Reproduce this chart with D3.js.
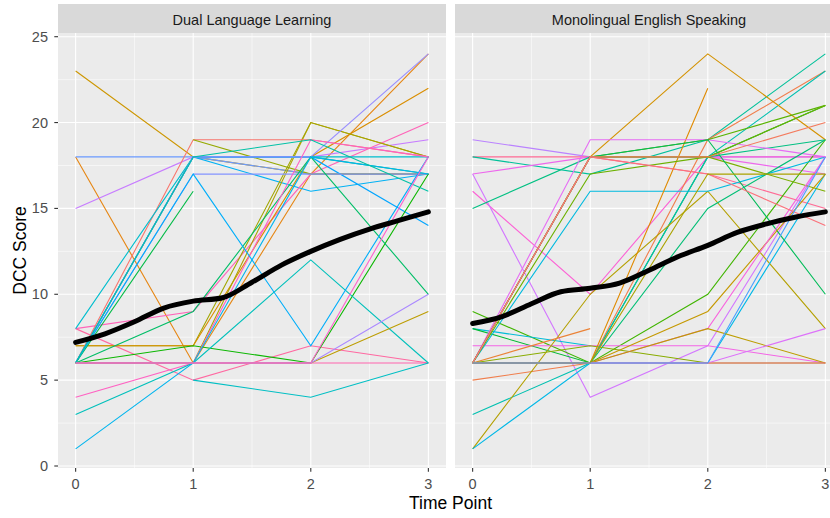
<!DOCTYPE html>
<html>
<head>
<meta charset="utf-8">
<script src="https://cdn.jsdelivr.net/npm/d3@7"></script>
<style>
  body { margin: 0; background: #ffffff; }
  text { font-family: "Liberation Sans", Arial, sans-serif; }
</style>
</head>
<body>
<div id="chart"></div>
<script>
// data
const time_points = [0, 1, 2, 3];
const group_names = ["Dual Language Learning", "Monolingual English Speaking"];
const y_ticks = [0, 5, 10, 15, 20, 25];
const x_ticks = [0, 1, 2, 3];

// hue slot of each participant (ggplot hue palette, 64 slots)
const dll_slots = [8, 4, 43, 48, 38, 58, 60, 13, 6, 12, 0, 14, 27, 33, 41, 45, 44, 22, 20, 59, 24, 57, 31, 37, 39, 32, 29, 10, 46, 56];
const dll_scores = [
    [23, 18, 17, 17], [18, 6, 17, 24], [18, 18, 17, 17], [15, 18, 18, 19],
    [6, 18, 16, 17], [8, 9, 17, 20], [8, 5, 7, 6], [7, 7, 20, 18],
    [7, 7, 18, 22], [6, 6, 20, 18], [6, 19, 19, 18], [null, 19, 17, 17],
    [6, 18, 18, 17], [8, 18, 18, 18], [6, 18, 18, 14], [6, 18, 18, 24],
    [6, 17, 17, 17], [6, 16, null, null], [6, 7, 6, 17], [6, 6, 6, 6],
    [6, 9, 18, 10], [4, 6, 19, 18], [3, 6, 12, 6], [1, 6, 18, 17],
    [6, 17, 7, 18], [null, 5, 4, 6], [6, 18, 19, 16], [6, 6, 6, 9],
    [6, 6, 6, 10], [6, 6, 6, 18]
];

const mes_slots = [47, 61, 28, 52, 55, 49, 26, 19, 34, 21, 53, 2, 30, 11, 36, 35, 3, 7, 5, 51, 18, 17, 16, 23, 1, 25, 15, 9, 54, 10, 50, 62, 63, 12, 42];
const mes_scores = [
    [19, 18, 18, 18], [18, 18, 17, 15], [18, 17, 19, 24], [17, 18, 18, 17],
    [16, 10, 18, 18], [17, 4, 7, 18], [15, 18, 18, 19], [9, 6, 10, 19],
    [8, 7, null, null], [8, 6, 18, 21], [7, 7, 7, 6], [5, 6, 19, 23],
    [3, 6, 18, 23], [1, 10, 16, 8], [1, 6, 6, 17], [6, 16, 16, 18],
    [6, 8, null, null], [6, 18, 24, 19], [6, 6, 22, null], [6, 19, 19, 18],
    [6, 18, 19, 21], [6, 17, 18, 21], [6, 18, 18, 16], [6, 18, 19, 10],
    [6, 18, 18, 20], [6, 6, 15, 19], [6, 7, 6, 6], [6, 6, 9, 17],
    [6, 6, 8, 18], [6, 6, 8, 6], [6, 6, 6, 8], [6, 6, 6, 6],
    [6, 18, 17, 14], [6, 6, 17, 17], [6, 6, 6, 18]
];

// loess curve read at quarter steps
const smooth_t = [0, 0.25, 0.5, 0.75, 1, 1.25, 1.5, 1.75, 2, 2.25, 2.5, 2.75, 3];
const dll_smooth = [7.2, 7.7, 8.4, 9.2, 9.6, 9.8, 10.7, 11.7, 12.5, 13.2, 13.8, 14.3, 14.8];
const mes_smooth = [8.3, 8.7, 9.45, 10.15, 10.35, 10.65, 11.4, 12.2, 12.85, 13.6, 14.1, 14.5, 14.8];

const hue_count = 64;

// R style hcl() colour (polar LUV)
function hcl_luv(h, c, l) {
    const xn = 95.047, yn = 100, zn = 108.883;
    const hr = h * Math.PI / 180;
    const U = c * Math.cos(hr), V = c * Math.sin(hr);
    const Y = l > 8 ? yn * Math.pow((l + 16) / 116, 3) : yn * l / 903.3;
    const den = xn + 15 * yn + 3 * zn;
    const u = U / (13 * l) + 4 * xn / den;
    const v = V / (13 * l) + 9 * yn / den;
    const X = 9 * Y * u / (4 * v);
    const Z = -X / 3 - 5 * Y + 3 * Y / v;
    const lin = [
        3.240479 * X - 1.537150 * Y - 0.498535 * Z,
        -0.969256 * X + 1.875992 * Y + 0.041556 * Z,
        0.055648 * X - 0.204043 * Y + 1.057311 * Z
    ].map(function(k) {
        k = k / 100;
        k = k <= 0.0031308 ? 12.92 * k : 1.055 * Math.pow(k, 1 / 2.4) - 0.055;
        return Math.round(Math.max(0, Math.min(1, k)) * 255);
    });
    return d3.rgb(lin[0], lin[1], lin[2]).formatHex();
}

class FacetView {

    constructor(grid_name) {
        // constants
        this.width = 830;
        this.height = 518;
        this.strip_top = 4;
        this.panel_top = 33;
        this.panel_bottom = 468;
        this.panels_x = [[58, 446], [455, 843]];

        // scales
        this.y = d3.scaleLinear().domain([0, 25]).range([466, 36.7]);
        this.color = function(slot) { return hcl_luv(15 + 360 * slot / hue_count, 100, 65); };

        d3.select(grid_name).html("");
        this._svg = d3.select(grid_name)
            .append("svg")
            .attr("width", this.width)
            .attr("height", this.height)
            .style("display", "block");
    }

    draw_panel(index, title, slots, scores, smooth) {
        const self = this;
        const left = this.panels_x[index][0];
        const right = this.panels_x[index][1];
        const x = d3.scaleLinear().domain([-0.15, 3.15]).range([left, right]);
        const g = this._svg.append("g");

        // background and strip
        g.append("rect")
            .attr("x", left).attr("y", this.panel_top)
            .attr("width", right - left).attr("height", this.panel_bottom - this.panel_top)
            .attr("fill", "#EBEBEB");
        g.append("rect")
            .attr("x", left).attr("y", this.strip_top)
            .attr("width", right - left).attr("height", this.panel_top - this.strip_top)
            .attr("fill", "#D9D9D9");
        g.append("text")
            .attr("x", (left + right) / 2).attr("y", 25)
            .attr("text-anchor", "middle")
            .attr("font-size", "14.5px")
            .attr("fill", "#1A1A1A")
            .text(title);

        // grid lines
        const y_minor = d3.pairs(y_ticks).map(function(p) { return (p[0] + p[1]) / 2; });
        const x_minor = d3.pairs(x_ticks).map(function(p) { return (p[0] + p[1]) / 2; });
        g.selectAll(".y_minor").data(y_minor).enter().append("line")
            .attr("x1", left).attr("x2", right)
            .attr("y1", function(d) { return self.y(d); })
            .attr("y2", function(d) { return self.y(d); })
            .attr("stroke", "#ffffff").attr("stroke-width", 0.55);
        g.selectAll(".x_minor").data(x_minor).enter().append("line")
            .attr("y1", this.panel_top).attr("y2", this.panel_bottom)
            .attr("x1", function(d) { return x(d); })
            .attr("x2", function(d) { return x(d); })
            .attr("stroke", "#ffffff").attr("stroke-width", 0.55);
        g.selectAll(".y_major").data(y_ticks).enter().append("line")
            .attr("x1", left).attr("x2", right)
            .attr("y1", function(d) { return self.y(d); })
            .attr("y2", function(d) { return self.y(d); })
            .attr("stroke", "#ffffff").attr("stroke-width", 1.1);
        g.selectAll(".x_major").data(x_ticks).enter().append("line")
            .attr("y1", this.panel_top).attr("y2", this.panel_bottom)
            .attr("x1", function(d) { return x(d); })
            .attr("x2", function(d) { return x(d); })
            .attr("stroke", "#ffffff").attr("stroke-width", 1.1);

        // participant lines
        const line = d3.line()
            .defined(function(d) { return d.v != null; })
            .x(function(d) { return x(d.t); })
            .y(function(d) { return self.y(d.v); });
        const rows = scores.map(function(s, i) {
            return { slot: slots[i], pts: s.map(function(v, k) { return { t: time_points[k], v: v }; }) };
        });
        g.selectAll(".subject").data(rows).enter().append("path")
            .attr("class", "subject")
            .attr("d", function(d) { return line(d.pts); })
            .attr("fill", "none")
            .attr("stroke", function(d) { return self.color(d.slot); })
            .attr("stroke-width", 1.1);

        // smoother
        const smooth_line = d3.line()
            .curve(d3.curveMonotoneX)
            .x(function(d, i) { return x(smooth_t[i]); })
            .y(function(d) { return self.y(d); });
        g.append("path")
            .attr("d", smooth_line(smooth))
            .attr("fill", "none")
            .attr("stroke", "#000000")
            .attr("stroke-width", 5)
            .attr("stroke-linecap", "round");

        // x axis
        g.selectAll(".x_tick").data(x_ticks).enter().append("line")
            .attr("x1", function(d) { return x(d); })
            .attr("x2", function(d) { return x(d); })
            .attr("y1", this.panel_bottom).attr("y2", this.panel_bottom + 3.7)
            .attr("stroke", "#333333").attr("stroke-width", 1.1);
        g.selectAll(".x_label").data(x_ticks).enter().append("text")
            .attr("x", function(d) { return x(d); })
            .attr("y", 489)
            .attr("text-anchor", "middle")
            .attr("font-size", "14.5px")
            .attr("fill", "#4D4D4D")
            .text(function(d) { return d; });

        // y axis only on first panel
        if (index == 0) {
            g.selectAll(".y_tick").data(y_ticks).enter().append("line")
                .attr("x1", left - 3.7).attr("x2", left)
                .attr("y1", function(d) { return self.y(d); })
                .attr("y2", function(d) { return self.y(d); })
                .attr("stroke", "#333333").attr("stroke-width", 1.1);
            g.selectAll(".y_label").data(y_ticks).enter().append("text")
                .attr("x", left - 10)
                .attr("y", function(d) { return self.y(d) + 5; })
                .attr("text-anchor", "end")
                .attr("font-size", "14.5px")
                .attr("fill", "#4D4D4D")
                .text(function(d) { return d; });
        }
    }

    draw_titles() {
        const mid_x = (this.panels_x[0][0] + this.panels_x[1][1]) / 2;
        const mid_y = (this.panel_top + this.panel_bottom) / 2;
        this._svg.append("text")
            .attr("x", mid_x).attr("y", 509)
            .attr("text-anchor", "middle")
            .attr("font-size", "17.5px")
            .attr("fill", "#000000")
            .text("Time Point");
        this._svg.append("text")
            .attr("transform", "translate(26," + mid_y + ") rotate(-90)")
            .attr("text-anchor", "middle")
            .attr("font-size", "17.5px")
            .attr("fill", "#000000")
            .text("DCC Score");
    }
}

const view = new FacetView("#chart");
view.draw_panel(0, group_names[0], dll_slots, dll_scores, dll_smooth);
view.draw_panel(1, group_names[1], mes_slots, mes_scores, mes_smooth);
view.draw_titles();
</script>
</body>
</html>
